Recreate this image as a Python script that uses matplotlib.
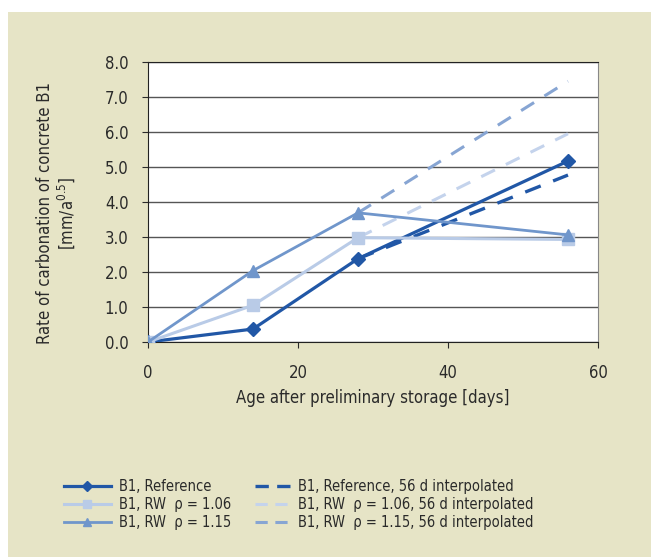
import matplotlib
matplotlib.use("Agg")
import matplotlib.pyplot as plt
from matplotlib.patches import Rectangle

plt.rcParams['font.family'] = ['DejaVu Sans']
plt.rcParams['font.stretch'] = 'condensed'

# data
days = [0, 14, 28, 56]
ref = [0.0, 0.37, 2.38, 5.17]
rw106 = [0.0, 1.05, 2.98, 2.93]
rw115 = [0.0, 2.04, 3.69, 3.06]

interp_days = [28, 56]
ref_interp = [2.38, 4.77]
rw106_interp = [2.98, 5.95]
rw115_interp = [3.69, 7.45]

x_ticks = [0, 20, 40, 60]
y_ticks = [0, 1, 2, 3, 4, 5, 6, 7, 8]

c_ref = "#2157a6"
c_106 = "#b9cbe7"
c_115 = "#7096cb"
c_106d = "#c4d3ec"
c_115d = "#87a5d3"
text_c = "#2a2a2a"

fig = plt.figure(figsize=(6.51, 5.57), dpi=100)
fig.patch.set_facecolor("white")
# beige panel behind the chart
fig.patches.append(Rectangle((8/651, 0), 1, 1 - 12/557, transform=fig.transFigure,
                             facecolor="#e6e4c6", edgecolor="none", zorder=-10))

ax = fig.add_axes([148/651, 1 - 342/557, 450/651, 280/557])
ax.set_facecolor("white")

# dashed interpolated lines
ax.plot(interp_days, rw115_interp, "--", color=c_115d, lw=2.2, dashes=(5, 4), zorder=2)
ax.plot(interp_days, rw106_interp, "--", color=c_106d, lw=2.2, dashes=(5, 4), zorder=2)
ax.plot(interp_days, ref_interp, "--", color=c_ref, lw=2.4, dashes=(5, 4), zorder=2)

# measured lines
ax.plot(days, ref, "-", color=c_ref, lw=2.3, marker="D", ms=7, zorder=3)
ax.plot(days, rw106, "-", color=c_106, lw=2.2, marker="s", ms=8, zorder=3)
ax.plot(days, rw115, "-", color=c_115, lw=2.0, marker="^", ms=8, zorder=3)

ax.set_xlim(0, 60)
ax.set_ylim(0, 8)
ax.set_xticks(x_ticks)
ax.set_yticks(y_ticks)
ax.set_yticklabels(["%.1f" % v for v in y_ticks])
ax.grid(axis="y", color="#555555", lw=1.0)
ax.set_axisbelow(True)

for s in ["left", "bottom", "top"]:
    ax.spines[s].set_color("#222222")
ax.spines["right"].set_color("#888888")
ax.tick_params(axis="both", labelsize=12, colors=text_c, length=4, width=0.8)
ax.tick_params(axis="x", pad=12)
ax.tick_params(axis="y", pad=10)

ax.set_xlabel("Age after preliminary storage [days]", fontsize=12, color=text_c, labelpad=5)
ax.set_ylabel("Rate of carbonation of concrete B1\n[mm/a$^{0.5}$]", fontsize=12,
              color=text_c, linespacing=1.1)
ax.yaxis.set_label_coords(-0.157, 0.46)

solid_h = [
    plt.Line2D([], [], color=c_ref, lw=2.3, marker="D", ms=5),
    plt.Line2D([], [], color=c_106, lw=2.2, marker="s", ms=6),
    plt.Line2D([], [], color=c_115, lw=2.0, marker="^", ms=6),
]
solid_l = [
    "B1, Reference",
    "B1, RW  \u03c1 = 1.06",
    "B1, RW  \u03c1 = 1.15",
]
dash_h = [
    plt.Line2D([], [], color=c_ref, lw=2.4, ls="--", dashes=(4, 2.5)),
    plt.Line2D([], [], color=c_106d, lw=2.2, ls="--", dashes=(4, 2.5)),
    plt.Line2D([], [], color=c_115d, lw=2.2, ls="--", dashes=(4, 2.5)),
]
dash_l = [
    "B1, Reference, 56 d interpolated",
    "B1, RW  \u03c1 = 1.06, 56 d interpolated",
    "B1, RW  \u03c1 = 1.15, 56 d interpolated",
]
leg1 = fig.legend(solid_h, solid_l, loc="upper left", bbox_to_anchor=(64/651, 1 - 479/557),
                  frameon=False, fontsize=10.5, handlelength=3.2, handletextpad=0.55,
                  labelspacing=0.2, borderaxespad=0, borderpad=0)
leg2 = fig.legend(dash_h, dash_l, loc="upper left", bbox_to_anchor=(255/651, 1 - 479/557),
                  frameon=False, fontsize=10.5, handlelength=2.4, handletextpad=0.55,
                  labelspacing=0.2, borderaxespad=0, borderpad=0)
for leg in (leg1, leg2):
    for t in leg.get_texts():
        t.set_color(text_c)

fig.savefig("out.png", dpi=100)
